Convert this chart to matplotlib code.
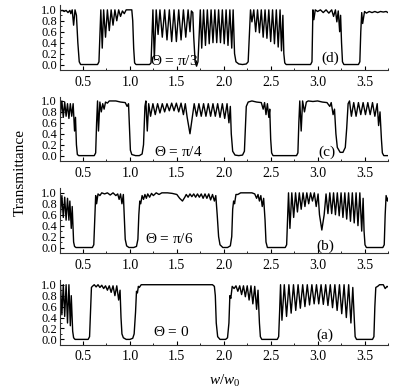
import matplotlib
matplotlib.use("Agg")
import matplotlib.pyplot as plt
from matplotlib.ticker import MultipleLocator, FormatStrFormatter

plt.rcParams['font.family'] = 'Liberation Serif'
plt.rcParams['mathtext.fontset'] = 'custom'
plt.rcParams['mathtext.rm'] = 'Liberation Serif'
plt.rcParams['mathtext.it'] = 'Liberation Serif:italic'

# transmittance spectra, (w/w0, T) pairs
spec_d = [(0.25, 0.98), (0.28, 0.99), (0.30, 0.97), (0.32, 0.99), (0.34, 0.95), (0.36, 0.99),
          (0.37, 0.93), (0.385, 1.0), (0.40, 0.72), (0.415, 1.0), (0.43, 0.9), (0.445, 0.4),
          (0.46, 0.05), (0.475, 0.0), (0.655, 0.0), (0.67, 0.05), (0.68, 0.5), (0.69, 1.0),
          (0.705, 0.3), (0.72, 1.0), (0.74, 0.5), (0.76, 1.0), (0.78, 0.62), (0.80, 1.0),
          (0.82, 0.72), (0.84, 1.0), (0.86, 0.8), (0.88, 1.0), (0.90, 0.88), (0.92, 0.98),
          (0.94, 0.93), (0.96, 1.0), (1.02, 1.0), (1.03, 0.8), (1.04, 0.3), (1.05, 0.03),
          (1.065, 0.0), (1.21, 0.0), (1.225, 0.03), (1.235, 0.5), (1.245, 1.0), (1.26, 0.1),
          (1.28, 1.0), (1.30, 0.55), (1.32, 1.0), (1.345, 0.5), (1.37, 1.0), (1.395, 0.45),
          (1.42, 1.0), (1.445, 0.42), (1.47, 1.0), (1.495, 0.42), (1.52, 1.0), (1.545, 0.45),
          (1.57, 1.0), (1.595, 0.5), (1.62, 1.0), (1.64, 0.6), (1.655, 0.98), (1.67, 0.95),
          (1.68, 0.5), (1.695, 0.05), (1.71, -0.03), (1.725, 0.05), (1.74, 0.6), (1.75, 1.0),
          (1.765, 0.3), (1.785, 1.0), (1.805, 0.35), (1.825, 1.0), (1.845, 0.38), (1.865, 1.0),
          (1.885, 0.4), (1.905, 1.0), (1.925, 0.4), (1.945, 1.0), (1.965, 0.4), (1.985, 1.0),
          (2.005, 0.38), (2.025, 1.0), (2.045, 0.35), (2.065, 1.0), (2.085, 0.3), (2.10, 1.0),
          (2.115, 0.2), (2.13, 0.05), (2.16, 0.01), (2.20, 0.0), (2.24, 0.01), (2.26, 0.05),
          (2.275, 0.6), (2.285, 1.0), (2.30, 0.78), (2.32, 1.0), (2.34, 0.6), (2.36, 1.0),
          (2.38, 0.58), (2.40, 1.0), (2.42, 0.5), (2.44, 1.0), (2.46, 0.48), (2.48, 1.0),
          (2.50, 0.42), (2.52, 1.0), (2.54, 0.38), (2.56, 1.0), (2.58, 0.32), (2.60, 1.0),
          (2.615, 0.25), (2.63, 0.9), (2.64, 0.2), (2.65, 0.03), (2.665, 0.0), (2.925, 0.0),
          (2.94, 0.05), (2.95, 1.0), (2.96, 0.82), (2.975, 1.0), (3.00, 0.97), (3.03, 1.0),
          (3.06, 0.95), (3.09, 1.0), (3.12, 0.94), (3.15, 1.0), (3.17, 0.88), (3.19, 1.0),
          (3.205, 0.78), (3.22, 0.98), (3.235, 0.6), (3.245, 0.9), (3.255, 0.4), (3.265, 0.05),
          (3.28, 0.0), (3.435, 0.0), (3.45, 0.05), (3.46, 0.6), (3.47, 0.95), (3.48, 0.75),
          (3.50, 0.97), (3.52, 0.94), (3.55, 0.97), (3.58, 0.95), (3.61, 0.97), (3.64, 0.95),
          (3.67, 0.97), (3.70, 0.96), (3.73, 0.97), (3.75, 0.95)]

spec_c = [(0.25, 0.95), (0.26, 0.75), (0.275, 1.0), (0.29, 0.7), (0.305, 0.98), (0.32, 0.72),
          (0.335, 0.95), (0.35, 0.68), (0.365, 0.95), (0.38, 0.72), (0.395, 0.95), (0.41, 0.45),
          (0.42, 0.7), (0.43, 0.2), (0.44, 0.02), (0.455, 0.0), (0.62, 0.0), (0.635, 0.05),
          (0.645, 0.6), (0.655, 1.0), (0.665, 0.45), (0.68, 0.98), (0.695, 0.8), (0.71, 0.95),
          (0.725, 0.85), (0.74, 0.98), (0.76, 0.96), (0.78, 1.0), (0.85, 1.0), (0.90, 0.98),
          (0.95, 0.97), (0.97, 0.9), (0.985, 0.95), (0.995, 0.5), (1.005, 0.1), (1.02, 0.02),
          (1.06, 0.0), (1.10, 0.0), (1.13, 0.03), (1.145, 0.2), (1.16, 0.9), (1.17, 1.0),
          (1.185, 0.45), (1.20, 0.95), (1.22, 0.72), (1.245, 0.95), (1.27, 0.75), (1.295, 0.95),
          (1.32, 0.78), (1.345, 0.95), (1.37, 0.8), (1.395, 0.95), (1.42, 0.82), (1.445, 0.96),
          (1.47, 0.82), (1.495, 0.96), (1.52, 0.8), (1.545, 0.96), (1.57, 0.75), (1.59, 0.95),
          (1.61, 0.7), (1.64, 0.4), (1.665, 0.7), (1.685, 0.95), (1.71, 0.72), (1.735, 0.95),
          (1.76, 0.72), (1.785, 0.95), (1.81, 0.72), (1.835, 0.95), (1.86, 0.72), (1.885, 0.95),
          (1.91, 0.72), (1.935, 0.95), (1.96, 0.7), (1.985, 0.95), (2.01, 0.68), (2.035, 0.95),
          (2.055, 0.6), (2.07, 0.9), (2.08, 0.4), (2.095, 0.08), (2.12, 0.01), (2.16, 0.0),
          (2.20, 0.01), (2.22, 0.08), (2.23, 0.5), (2.24, 0.9), (2.26, 0.98), (2.30, 1.0),
          (2.35, 0.98), (2.40, 0.97), (2.42, 0.85), (2.435, 0.97), (2.45, 0.75), (2.465, 0.95),
          (2.48, 0.7), (2.49, 0.85), (2.50, 0.3), (2.51, 0.05), (2.525, 0.0), (2.775, 0.0),
          (2.79, 0.05), (2.80, 0.6), (2.81, 1.0), (2.825, 0.45), (2.84, 1.0), (2.86, 0.8),
          (2.88, 0.98), (2.90, 1.0), (2.95, 0.99), (3.00, 1.0), (3.05, 0.98), (3.10, 0.97),
          (3.13, 0.9), (3.145, 0.97), (3.165, 0.75), (3.18, 0.85), (3.195, 0.4), (3.21, 0.15),
          (3.24, 0.06), (3.27, 0.06), (3.295, 0.15), (3.31, 0.5), (3.325, 0.95), (3.34, 1.0),
          (3.36, 0.72), (3.385, 0.97), (3.41, 0.72), (3.435, 0.97), (3.46, 0.75), (3.485, 0.97),
          (3.51, 0.75), (3.535, 0.97), (3.56, 0.75), (3.585, 0.97), (3.61, 0.72), (3.635, 0.95),
          (3.65, 0.55), (3.665, 0.8), (3.68, 0.3), (3.69, 0.05), (3.705, 0.0), (3.75, 0.0)]

spec_b = [(0.25, 0.85), (0.26, 0.62), (0.275, 0.95), (0.29, 0.55), (0.305, 0.92), (0.32, 0.5),
          (0.335, 0.9), (0.35, 0.5), (0.36, 0.85), (0.375, 0.35), (0.385, 0.75), (0.40, 0.1),
          (0.41, 0.02), (0.425, 0.0), (0.60, 0.0), (0.615, 0.05), (0.625, 0.5), (0.635, 0.95),
          (0.645, 0.8), (0.66, 0.98), (0.68, 0.95), (0.70, 1.0), (0.73, 0.98), (0.76, 1.0),
          (0.79, 0.96), (0.82, 1.0), (0.85, 0.95), (0.87, 0.98), (0.885, 0.88), (0.90, 0.98),
          (0.915, 0.8), (0.93, 0.97), (0.94, 0.55), (0.95, 0.15), (0.965, 0.03), (0.99, 0.0),
          (1.04, 0.0), (1.07, 0.02), (1.085, 0.15), (1.095, 0.6), (1.105, 0.85), (1.115, 0.8),
          (1.13, 0.95), (1.145, 0.88), (1.16, 0.97), (1.175, 0.9), (1.19, 0.98), (1.21, 0.92),
          (1.23, 0.99), (1.25, 0.95), (1.28, 1.0), (1.31, 0.97), (1.34, 1.0), (1.40, 1.0),
          (1.45, 0.99), (1.50, 0.97), (1.53, 0.9), (1.56, 0.85), (1.585, 0.92), (1.60, 0.97),
          (1.62, 0.92), (1.64, 0.98), (1.66, 0.93), (1.68, 0.98), (1.70, 0.92), (1.72, 0.98),
          (1.74, 0.92), (1.76, 0.98), (1.78, 0.9), (1.80, 0.98), (1.82, 0.9), (1.84, 0.98),
          (1.86, 0.87), (1.88, 0.97), (1.90, 0.85), (1.915, 0.95), (1.93, 0.6), (1.945, 0.2),
          (1.96, 0.05), (1.99, 0.0), (2.04, 0.0), (2.07, 0.03), (2.085, 0.2), (2.095, 0.7),
          (2.105, 0.85), (2.115, 0.8), (2.13, 0.97), (2.15, 0.97), (2.18, 1.0), (2.30, 1.0),
          (2.33, 0.98), (2.35, 0.9), (2.365, 0.97), (2.38, 0.85), (2.395, 0.95), (2.41, 0.75),
          (2.425, 0.9), (2.44, 0.5), (2.45, 0.1), (2.465, 0.0), (2.655, 0.0), (2.67, 0.05),
          (2.68, 0.5), (2.69, 1.0), (2.705, 0.35), (2.725, 1.0), (2.745, 0.55), (2.765, 1.0),
          (2.785, 0.65), (2.805, 1.0), (2.825, 0.7), (2.845, 1.0), (2.865, 0.75), (2.885, 1.0),
          (2.905, 0.8), (2.925, 1.0), (2.945, 0.85), (2.965, 1.0), (2.985, 0.75), (3.005, 0.98),
          (3.02, 0.6), (3.045, 0.32), (3.07, 0.6), (3.09, 0.98), (3.11, 0.62), (3.13, 1.0),
          (3.15, 0.62), (3.17, 1.0), (3.19, 0.6), (3.21, 1.0), (3.23, 0.58), (3.25, 1.0),
          (3.27, 0.55), (3.29, 1.0), (3.31, 0.52), (3.33, 1.0), (3.35, 0.48), (3.37, 1.0),
          (3.39, 0.45), (3.41, 1.0), (3.43, 0.4), (3.45, 1.0), (3.47, 0.3), (3.485, 0.9),
          (3.495, 0.3), (3.505, 0.05), (3.52, 0.0), (3.695, 0.0), (3.71, 0.05), (3.72, 0.6),
          (3.73, 0.95), (3.745, 0.85), (3.75, 0.9)]

spec_a = [(0.25, 0.55), (0.26, 1.0), (0.275, 0.45), (0.29, 1.0), (0.305, 0.42), (0.32, 1.0),
          (0.335, 0.3), (0.35, 1.0), (0.365, 0.25), (0.375, 0.8), (0.39, 0.15), (0.40, 0.03),
          (0.415, 0.0), (0.555, 0.0), (0.57, 0.05), (0.58, 0.5), (0.59, 0.95), (0.60, 0.97),
          (0.62, 1.0), (0.64, 0.96), (0.66, 1.0), (0.68, 0.95), (0.70, 0.99), (0.72, 0.93),
          (0.74, 0.98), (0.76, 0.9), (0.78, 0.98), (0.80, 0.86), (0.82, 0.98), (0.84, 0.8),
          (0.86, 0.98), (0.88, 0.72), (0.895, 0.9), (0.905, 0.4), (0.915, 0.1), (0.93, 0.03),
          (0.96, 0.0), (1.00, 0.0), (1.03, 0.02), (1.045, 0.1), (1.06, 0.5), (1.07, 0.88),
          (1.08, 0.85), (1.09, 0.97), (1.10, 0.95), (1.12, 1.0), (1.88, 1.0), (1.90, 0.97),
          (1.91, 0.8), (1.92, 0.3), (1.935, 0.05), (1.96, 0.0), (2.02, 0.0), (2.04, 0.03),
          (2.055, 0.3), (2.065, 0.8), (2.075, 0.75), (2.09, 0.97), (2.11, 0.93), (2.13, 0.98),
          (2.15, 0.88), (2.17, 0.98), (2.19, 0.82), (2.21, 0.98), (2.23, 0.78), (2.25, 0.98),
          (2.27, 0.72), (2.29, 0.98), (2.31, 0.65), (2.33, 0.97), (2.35, 0.55), (2.365, 0.9),
          (2.38, 0.3), (2.39, 0.05), (2.405, 0.0), (2.57, 0.0), (2.585, 0.05), (2.595, 0.5),
          (2.605, 1.0), (2.62, 0.35), (2.645, 1.0), (2.669, 0.42), (2.694, 1.0), (2.718, 0.48),
          (2.743, 1.0), (2.767, 0.53), (2.792, 1.0), (2.816, 0.57), (2.841, 1.0), (2.865, 0.6),
          (2.89, 1.0), (2.914, 0.63), (2.939, 1.0), (2.963, 0.65), (2.988, 1.0), (3.012, 0.65),
          (3.037, 1.0), (3.061, 0.64), (3.086, 1.0), (3.11, 0.62), (3.135, 1.0), (3.159, 0.58),
          (3.184, 1.0), (3.208, 0.53), (3.233, 1.0), (3.257, 0.47), (3.282, 1.0), (3.306, 0.4),
          (3.331, 1.0), (3.355, 0.3), (3.375, 0.95), (3.39, 0.4), (3.40, 0.05), (3.415, 0.0),
          (3.585, 0.0), (3.60, 0.05), (3.61, 0.6), (3.62, 0.95), (3.64, 0.97), (3.66, 1.0),
          (3.70, 1.0), (3.72, 0.93), (3.74, 0.97), (3.75, 0.96)]

angles = ['π/3', 'π/4', 'π/6', '0']
tags = ['(d)', '(c)', '(b)', '(a)']
spectra = [spec_d, spec_c, spec_b, spec_a]

angle_pos = [(1.47, 0.06), (1.52, 0.07), (1.42, 0.16), (1.44, 0.13)]
tag_pos = [(3.13, 0.12), (3.1, 0.07), (3.08, 0.02), (3.08, 0.08)]

fig = plt.figure(figsize=(4.05, 3.91), dpi=100)
bottoms = [0.821, 0.588, 0.353, 0.118]

for k in range(4):
    ax = fig.add_axes([0.147, bottoms[k], 0.811, 0.165])
    w = [p[0] for p in spectra[k]]
    T = [p[1] for p in spectra[k]]
    ax.plot(w, T, color='black', lw=1.0)
    ax.set_xlim(0.25, 3.75)
    ax.set_ylim(-0.1, 1.08)
    ax.spines['top'].set_visible(False)
    ax.spines['right'].set_visible(False)
    ax.spines['left'].set_color('#333333')
    ax.spines['bottom'].set_color('#333333')
    ax.xaxis.set_major_locator(MultipleLocator(0.5))
    ax.xaxis.set_minor_locator(MultipleLocator(0.25))
    ax.yaxis.set_major_locator(MultipleLocator(0.2))
    ax.yaxis.set_minor_locator(MultipleLocator(0.1))
    ax.xaxis.set_major_formatter(FormatStrFormatter('%.1f'))
    ax.yaxis.set_major_formatter(FormatStrFormatter('%.1f'))
    ax.tick_params(which='both', direction='in')
    ax.tick_params(axis='x', pad=4, labelsize=10)
    ax.tick_params(axis='y', pad=2, labelsize=9)
    ax.tick_params(which='major', length=3)
    ax.tick_params(which='minor', length=1.5)
    ax.set_yticks([0.0, 0.2, 0.4, 0.6, 0.8, 1.0])
    ax.text(angle_pos[k][0], angle_pos[k][1], r'$\mathit{\Theta}$ = ' + angles[k],
            fontsize=11, ha='center', va='center')
    ax.text(tag_pos[k][0], tag_pos[k][1], tags[k], fontsize=11, ha='center', va='center')

fig.text(0.05, 0.56, 'Transmittance', rotation=90, ha='center', va='center', fontsize=11)
fig.text(0.555, 0.025, r'$w/w_0$', ha='center', va='center', fontsize=11)

fig.savefig('out.png', dpi=100)
